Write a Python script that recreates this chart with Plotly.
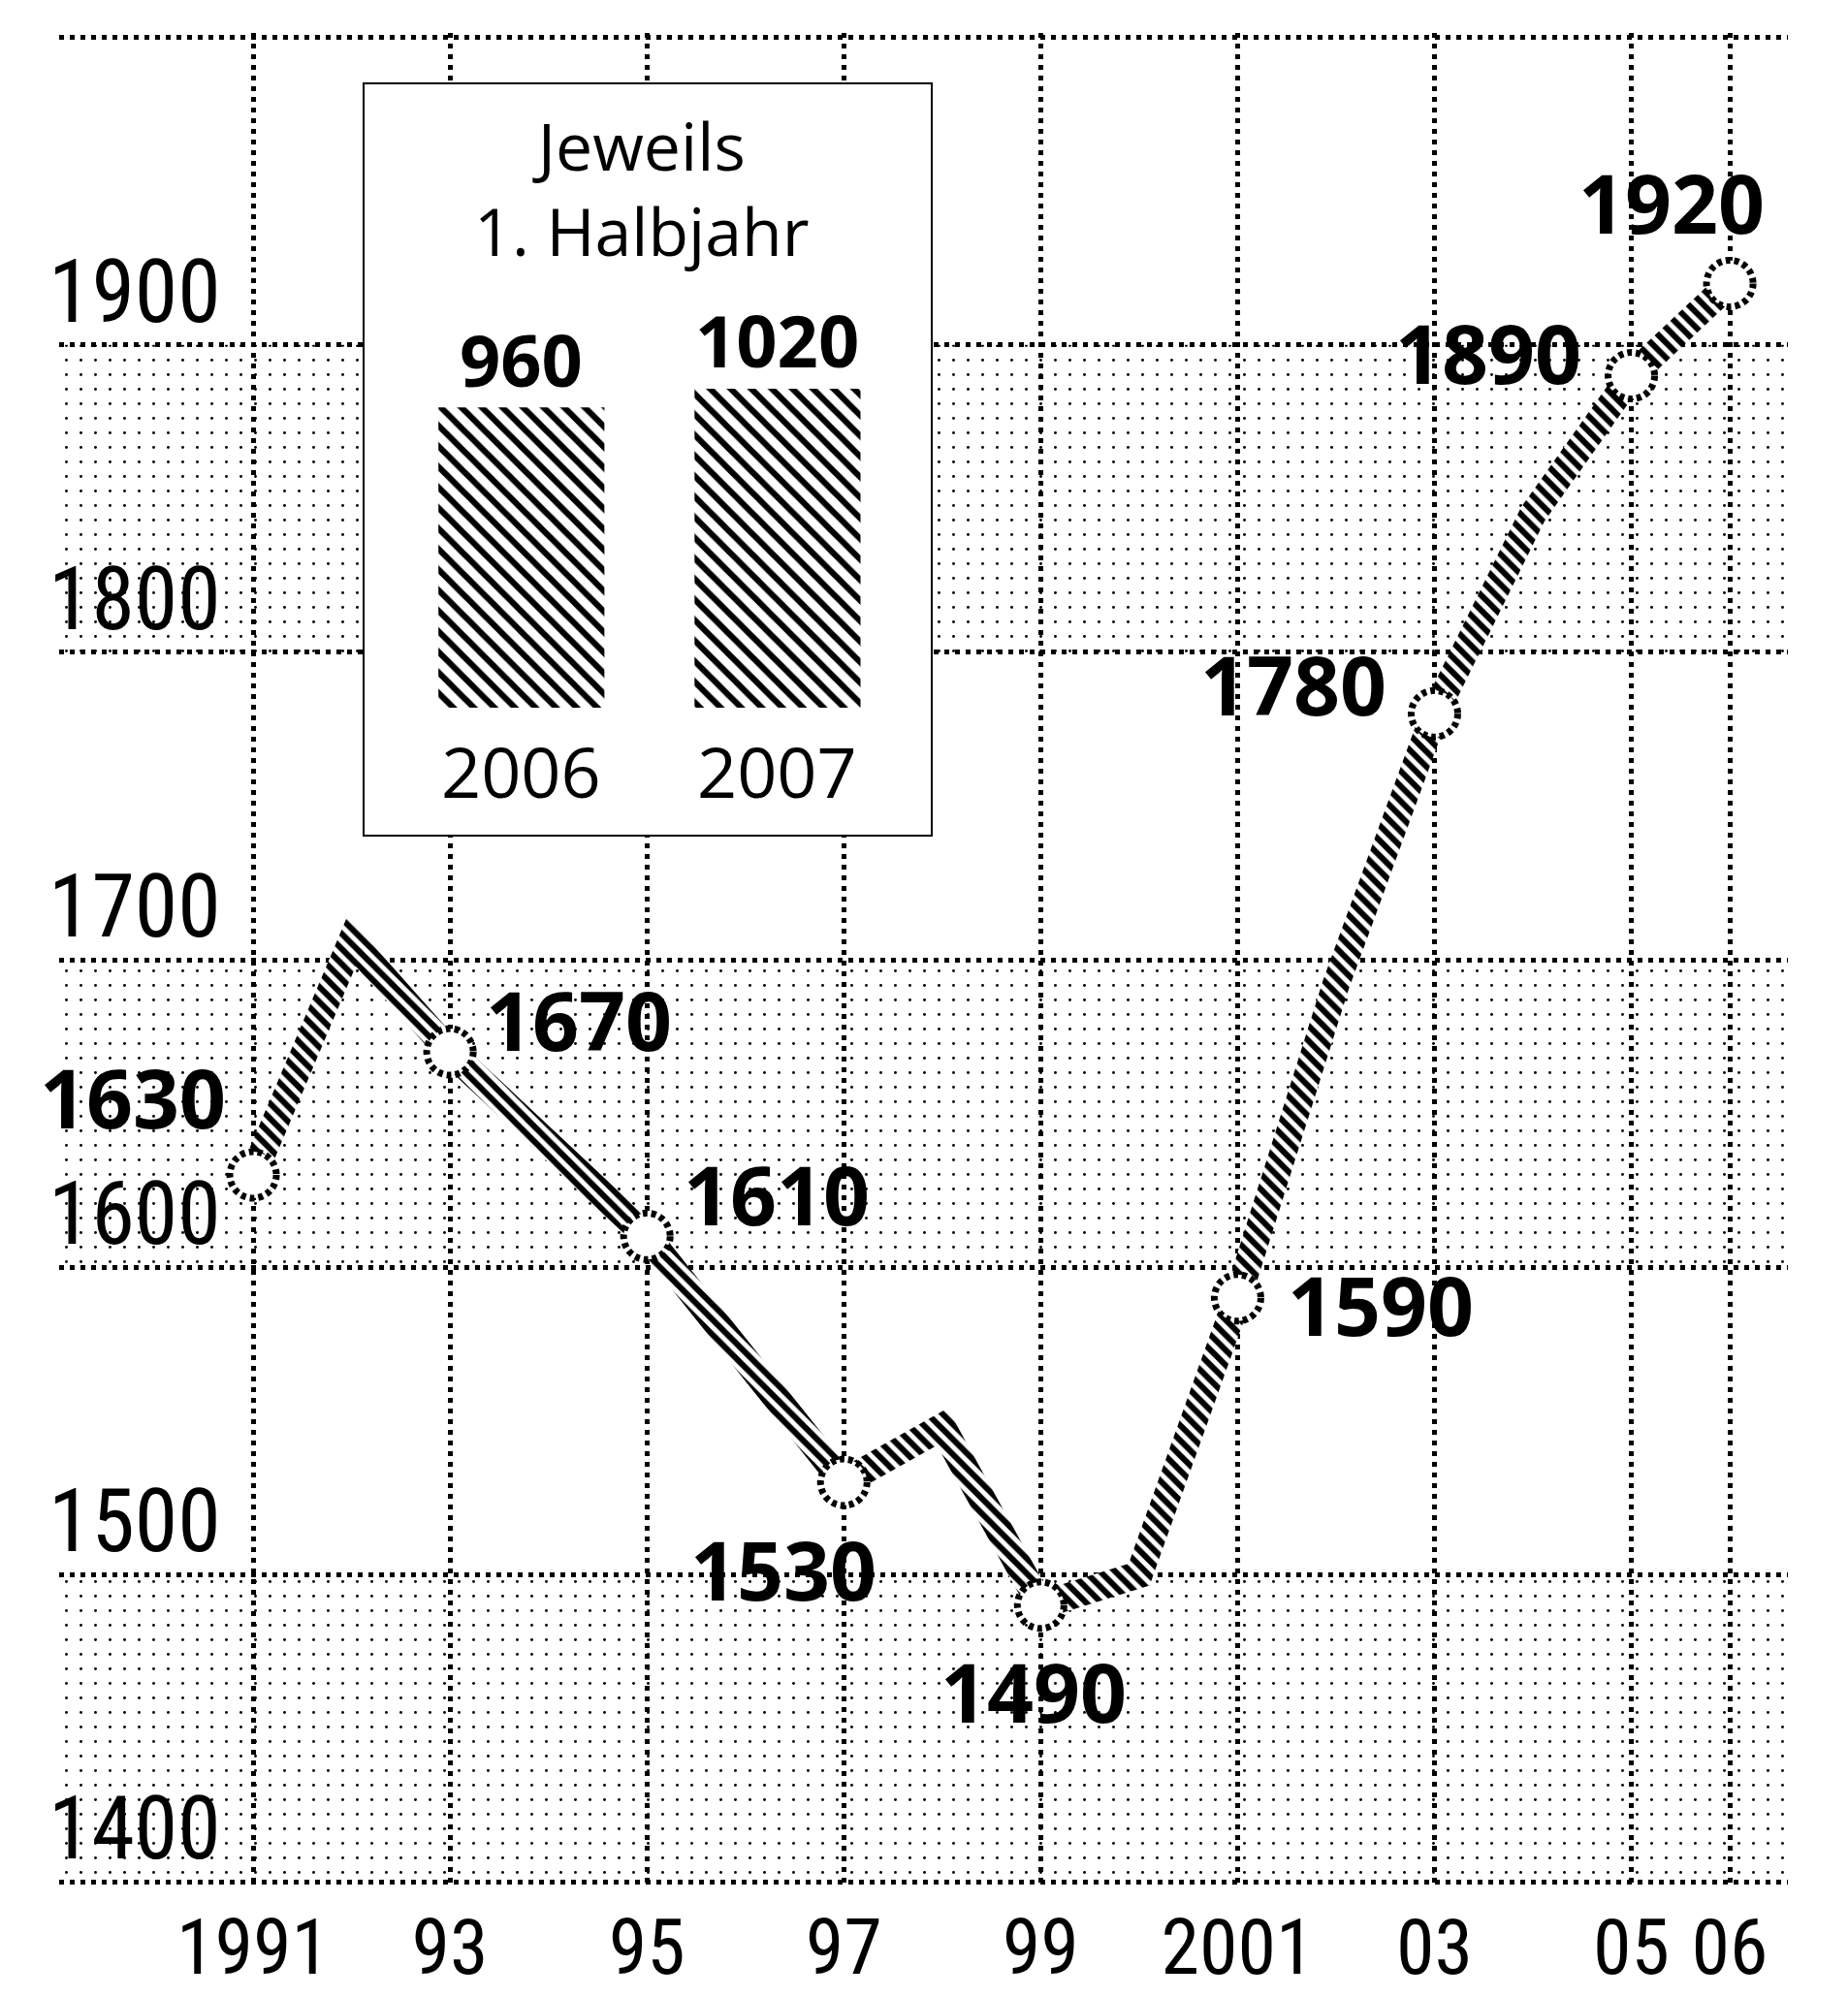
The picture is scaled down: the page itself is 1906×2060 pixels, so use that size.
import numpy as np
import plotly.graph_objects as go

# ---------------- data ----------------
years = list(range(1991, 2007))
values = [1630, 1706, 1670, 1640, 1610, 1570, 1530, 1548, 1490, 1500,
          1590, 1692, 1780, 1845, 1890, 1920]
labeled_years = [1991, 1993, 1995, 1997, 1999, 2001, 2003, 2005, 2006]

x_tickvals = [1991, 1993, 1995, 1997, 1999, 2001, 2003, 2005, 2006]
x_ticktext = ["1991", "93", "95", "97", "99", "2001", "03", "05", "06"]
y_tickvals = [1400, 1500, 1600, 1700, 1800, 1900, 2000]
y_ticktext = ["1400", "1500", "1600", "1700", "1800", "1900", ""]
shaded_bands = [(1400, 1500), (1600, 1700), (1800, 1900)]

inset_categories = ["2006", "2007"]
inset_values = [960, 1020]
inset_title = ["Jeweils", "1. Halbjahr"]

# ---------------- layout constants ----------------
W, H = 1906, 2060
L, R, T, B = 61, 62, 34, 114
XR = [1989.03, 2006.59]
YR = [1398.5, 2001.5]
PW, PH = W - L - R, H - T - B
SX = PW / (XR[1] - XR[0])
SY = PH / (YR[1] - YR[0])

# label offsets (pixels) for the value annotations, per labeled year
label_shift = {1991: (-124, 80), 1993: (133, 34), 1995: (134, 44),
               1997: (-62, -89), 1999: (-7, -89), 2001: (148, -7),
               2003: (-145, 31), 2005: (-148, 24), 2006: (-60, 84)}

NARROW = "Liberation Sans Narrow, Arial Narrow, Roboto Condensed, Open Sans, sans-serif"
SANS = "Open Sans, Noto Sans, sans-serif"


def band_polygon(xs, ys, half_w):
    """Outline of a thick polyline (miter joins), in data coordinates."""
    P = np.column_stack([(np.array(xs) - XR[0]) * SX, (YR[1] - np.array(ys)) * SY])
    d = np.diff(P, axis=0)
    d = d / np.linalg.norm(d, axis=1)[:, None]
    n = np.column_stack([-d[:, 1], d[:, 0]])
    A, Bs = [], []
    for i in range(len(P)):
        if i == 0:
            m, ln = n[0], half_w
        elif i == len(P) - 1:
            m, ln = n[-1], half_w
        else:
            m = n[i - 1] + n[i]
            m = m / np.linalg.norm(m)
            ln = min(half_w / np.dot(m, n[i - 1]), 4 * half_w)
        A.append(P[i] + m * ln)
        Bs.append(P[i] - m * ln)
    poly = np.array(A + Bs[::-1] + [A[0]])
    return XR[0] + poly[:, 0] / SX, YR[1] - poly[:, 1] / SY


fig = go.Figure()

# dotted background bands
for lo, hi in shaded_bands:
    fig.add_trace(go.Scatter(
        x=[XR[0], XR[1], XR[1], XR[0], XR[0]], y=[lo, lo, hi, hi, lo],
        mode="lines", line=dict(width=0, color="rgba(0,0,0,0)"),
        fill="toself", fillcolor="rgba(0,0,0,0)",
        fillpattern=dict(shape=".", size=15, solidity=0.03, fgcolor="black",
                         bgcolor="rgba(0,0,0,0)", fillmode="replace"),
        hoverinfo="skip", showlegend=False))

# hatched thick line
px_, py_ = band_polygon(years, values, 14)
fig.add_trace(go.Scatter(
    x=px_, y=py_, mode="lines", line=dict(width=0, color="rgba(0,0,0,0)"),
    fill="toself", fillcolor="white",
    fillpattern=dict(shape="\\", size=11, solidity=0.55, fgcolor="black",
                     bgcolor="white", fillmode="replace"),
    hoverinfo="skip", showlegend=False))

# open circles at labelled points
val_of = dict(zip(years, values))
for yr in labeled_years:
    fig.add_shape(type="circle", xref="x", yref="y", xsizemode="pixel", ysizemode="pixel",
                  xanchor=yr, yanchor=val_of[yr], x0=-24, x1=24, y0=-24, y1=24,
                  fillcolor="white", line=dict(color="black", width=7, dash="5px,4px"),
                  layer="above")
    dx, dy = label_shift[yr]
    fig.add_annotation(x=yr, y=val_of[yr], xref="x", yref="y", text=str(val_of[yr]),
                       showarrow=False, xanchor="center", yanchor="middle",
                       xshift=dx, yshift=dy,
                       font=dict(family=SANS, size=84, color="black", weight="bold"))

# y tick labels (placed above grid lines, overlapping plot)
for v, t in zip(y_tickvals, y_ticktext):
    if t:
        fig.add_annotation(x=XR[0], y=v, xref="x", yref="y", text=t, showarrow=False,
                           xanchor="right", yanchor="bottom", xshift=169, yshift=0,
                           font=dict(family=NARROW, size=90, color="black"))

# ---------------- inset ----------------
BOX = dict(left=374, right=962, top=85, bottom=863)
dom_x = [(BOX["left"] - L) / PW, (BOX["right"] - L) / PW]
dom_y = [(H - B - BOX["bottom"]) / PH, (H - B - BOX["top"]) / PH]
X2R = [-0.62, 1.606]
Y2R = [-412, 1999]
inset_pos = list(range(len(inset_categories)))

fig.add_trace(go.Bar(
    x=inset_pos, y=inset_values, xaxis="x2", yaxis="y2", width=0.648,
    marker=dict(color="white", line=dict(width=0),
                pattern=dict(shape="\\", size=15, solidity=0.42, fgcolor="black",
                             bgcolor="white", fillmode="replace")),
    hoverinfo="skip", showlegend=False))

fig.add_shape(type="rect", xref="x2", yref="y2", x0=X2R[0], x1=X2R[1], y0=Y2R[0], y1=Y2R[1],
              fillcolor="white", line=dict(color="black", width=4), layer="below")

for i, (cat, v) in enumerate(zip(inset_categories, inset_values)):
    fig.add_annotation(x=inset_pos[i], y=v, xref="x2", yref="y2", text=str(v),
                       showarrow=False, xanchor="center", yanchor="middle", yshift=50,
                       font=dict(family=SANS, size=74, color="black", weight="bold"))
    fig.add_annotation(x=inset_pos[i], y=0, xref="x2", yref="y2", text=cat,
                       showarrow=False, xanchor="center", yanchor="middle", yshift=-65,
                       font=dict(family=SANS, size=72, color="black"))

fig.add_annotation(x=0.49, y=0.86, xref="x2 domain", yref="y2 domain",
                   text="<br>".join(inset_title), showarrow=False,
                   xanchor="center", yanchor="middle", align="center",
                   font=dict(family=SANS, size=68, color="black"))

fig.update_layout(
    width=W, height=H, margin=dict(l=L, r=R, t=T, b=B, autoexpand=False),
    paper_bgcolor="white", plot_bgcolor="white",
    xaxis=dict(range=XR, tickvals=x_tickvals, ticktext=x_ticktext, showgrid=True,
               gridcolor="black", gridwidth=4.5, griddash="5px,6px", zeroline=False,
               showline=False, ticks="", ticklabelstandoff=9, automargin=False,
               tickfont=dict(family=NARROW, size=80, color="black")),
    yaxis=dict(range=YR, tickvals=y_tickvals, showticklabels=False, showgrid=True,
               gridcolor="black", gridwidth=4.5, griddash="5px,6px", zeroline=False,
               showline=False, ticks="", automargin=False),
    xaxis2=dict(domain=dom_x, range=X2R, anchor="y2", visible=False, automargin=False),
    yaxis2=dict(domain=dom_y, range=Y2R, anchor="x2", visible=False, automargin=False),
    showlegend=False,
)

fig.write_html("out.html", config={"displayModeBar": False},
               post_script="document.body.style.margin='0px';")
